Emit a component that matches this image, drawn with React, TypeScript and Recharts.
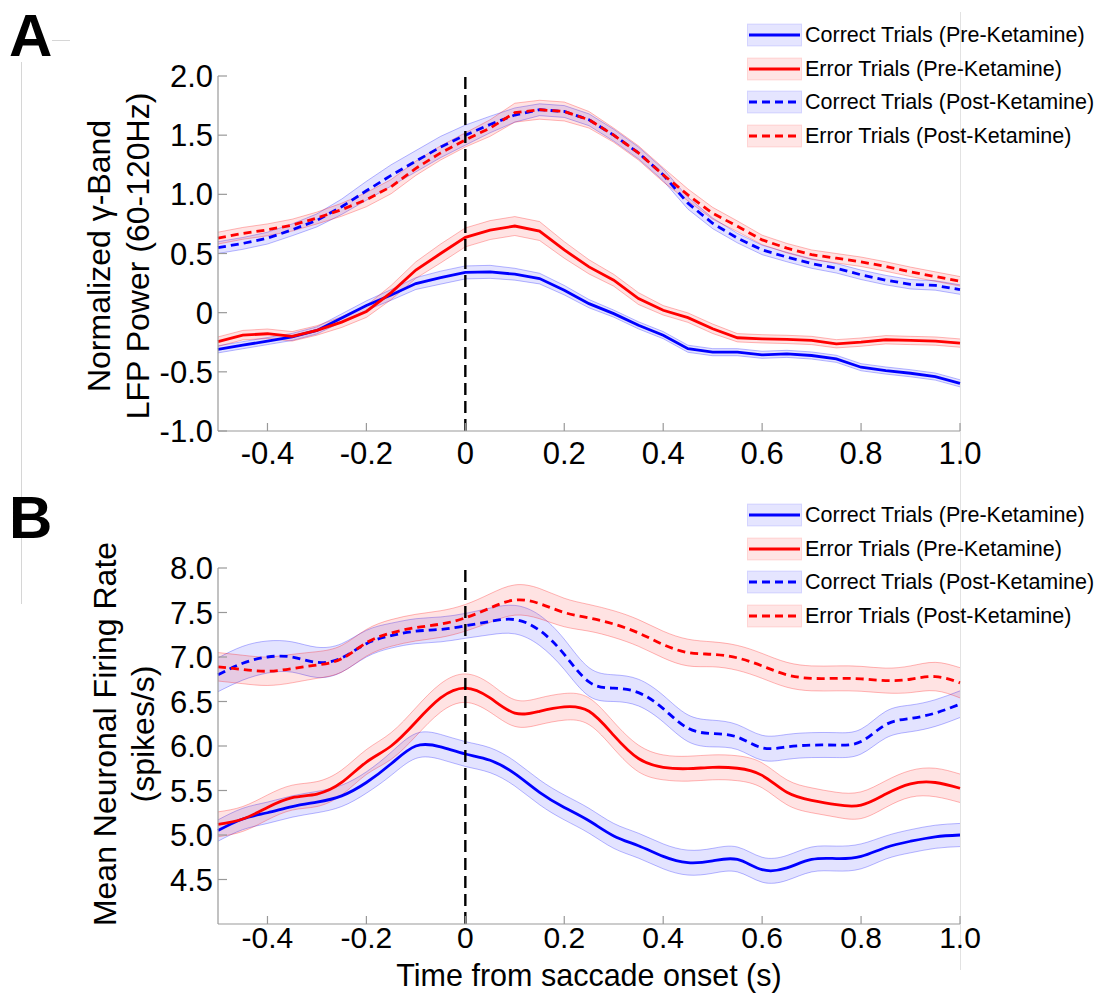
import React from 'react';
import { ComposedChart, Line, Area, XAxis, YAxis, ReferenceLine } from 'recharts';

// ---------- data ----------
const TIME = [
  -0.5, -0.45, -0.4, -0.35, -0.3, -0.25, -0.2, -0.15, -0.1, -0.05, 0, 0.05, 0.1, 0.15, 0.2, 0.25,
  0.3, 0.35, 0.4, 0.45, 0.5, 0.55, 0.6, 0.65, 0.7, 0.75, 0.8, 0.85, 0.9, 0.95, 1.0,
];

const X_TICKS = [-0.4, -0.2, 0, 0.2, 0.4, 0.6, 0.8, 1.0];
const A_Y_TICKS = [-1, -0.5, 0, 0.5, 1, 1.5, 2];
const B_Y_TICKS = [4.5, 5, 5.5, 6, 6.5, 7, 7.5, 8];

const LEGEND_LABELS = [
  'Correct Trials (Pre-Ketamine)',
  'Error Trials (Pre-Ketamine)',
  'Correct Trials (Post-Ketamine)',
  'Error Trials (Post-Ketamine)',
];

const A_Y_LABEL = ['Normalized \u03b3-Band', 'LFP Power (60-120Hz)'];
const B_Y_LABEL = ['Mean Neuronal Firing Rate', '(spikes/s)'];
const X_LABEL = 'Time from saccade onset (s)';

// Panel A: gamma-band LFP power
const A_CORRECT_PRE = [-0.31, -0.275, -0.24, -0.205, -0.15, -0.045, 0.06, 0.15, 0.246, 0.296, 0.34, 0.345, 0.325, 0.288, 0.19, 0.076, -0.008, -0.107, -0.19, -0.305, -0.334, -0.334, -0.356, -0.348, -0.362, -0.39, -0.461, -0.489, -0.512, -0.54, -0.597];
const A_ERROR_PRE = [-0.245, -0.19, -0.178, -0.2, -0.15, -0.08, 0.01, 0.17, 0.36, 0.5, 0.636, 0.698, 0.732, 0.69, 0.53, 0.387, 0.274, 0.119, 0.02, -0.042, -0.136, -0.212, -0.221, -0.226, -0.235, -0.263, -0.249, -0.229, -0.235, -0.24, -0.257];
const A_CORRECT_POST = [0.55, 0.585, 0.63, 0.7, 0.78, 0.895, 1.03, 1.16, 1.28, 1.4, 1.5, 1.59, 1.67, 1.715, 1.7, 1.63, 1.5, 1.35, 1.165, 0.925, 0.755, 0.63, 0.53, 0.47, 0.415, 0.375, 0.32, 0.275, 0.24, 0.23, 0.195];
const A_ERROR_POST = [0.63, 0.67, 0.7, 0.74, 0.8, 0.87, 0.955, 1.065, 1.22, 1.35, 1.46, 1.56, 1.69, 1.715, 1.7, 1.63, 1.5, 1.35, 1.165, 0.995, 0.84, 0.73, 0.615, 0.545, 0.49, 0.46, 0.43, 0.39, 0.345, 0.305, 0.265];

const A_CORRECT_PRE_SEM = [0.03, 0.03, 0.03, 0.03, 0.03, 0.035, 0.04, 0.045, 0.05, 0.055, 0.055, 0.055, 0.05, 0.045, 0.04, 0.035, 0.03, 0.03, 0.03, 0.03, 0.03, 0.03, 0.03, 0.03, 0.03, 0.03, 0.03, 0.03, 0.03, 0.03, 0.03];
const A_ERROR_PRE_SEM = [0.04, 0.04, 0.04, 0.04, 0.04, 0.045, 0.05, 0.06, 0.07, 0.08, 0.08, 0.08, 0.08, 0.08, 0.07, 0.06, 0.05, 0.05, 0.04, 0.04, 0.04, 0.035, 0.035, 0.035, 0.035, 0.035, 0.035, 0.035, 0.035, 0.035, 0.035];
const A_CORRECT_POST_SEM = [0.05, 0.05, 0.05, 0.05, 0.055, 0.065, 0.08, 0.09, 0.09, 0.09, 0.085, 0.07, 0.06, 0.05, 0.05, 0.05, 0.05, 0.05, 0.05, 0.05, 0.045, 0.04, 0.04, 0.04, 0.04, 0.04, 0.04, 0.04, 0.04, 0.04, 0.04];
const A_ERROR_POST_SEM = [0.05, 0.05, 0.05, 0.05, 0.05, 0.055, 0.06, 0.06, 0.06, 0.06, 0.06, 0.07, 0.08, 0.08, 0.08, 0.07, 0.06, 0.06, 0.06, 0.05, 0.05, 0.045, 0.04, 0.04, 0.04, 0.04, 0.04, 0.04, 0.04, 0.04, 0.04];

// Panel B: firing rate
const B_CORRECT_PRE = [5.05, 5.18, 5.25, 5.32, 5.37, 5.44, 5.59, 5.8, 6.0, 5.99, 5.91, 5.84, 5.69, 5.48, 5.31, 5.16, 4.99, 4.88, 4.76, 4.69, 4.71, 4.725, 4.61, 4.63, 4.725, 4.735, 4.76, 4.86, 4.93, 4.98, 5.0];
const B_ERROR_PRE = [5.12, 5.18, 5.31, 5.42, 5.46, 5.59, 5.82, 6.0, 6.27, 6.54, 6.65, 6.54, 6.37, 6.39, 6.44, 6.39, 6.12, 5.86, 5.76, 5.745, 5.76, 5.75, 5.67, 5.48, 5.39, 5.34, 5.335, 5.46, 5.575, 5.59, 5.525];
const B_CORRECT_POST = [6.8, 6.93, 7.0, 7.0, 6.94, 6.99, 7.15, 7.24, 7.29, 7.31, 7.35, 7.4, 7.42, 7.3, 7.03, 6.72, 6.65, 6.6, 6.42, 6.2, 6.14, 6.1, 5.98, 5.99, 6.01, 6.01, 6.05, 6.24, 6.31, 6.37, 6.47];
const B_ERROR_POST = [6.89, 6.86, 6.84, 6.87, 6.91, 6.98, 7.16, 7.27, 7.33, 7.37, 7.44, 7.55, 7.64, 7.6, 7.5, 7.44, 7.37, 7.27, 7.14, 7.05, 7.03, 6.99, 6.9, 6.8, 6.76, 6.76, 6.755, 6.735, 6.75, 6.78, 6.71];

const B_CORRECT_PRE_SEM = [0.12, 0.12, 0.12, 0.12, 0.12, 0.12, 0.12, 0.13, 0.14, 0.14, 0.14, 0.14, 0.14, 0.14, 0.14, 0.14, 0.14, 0.14, 0.14, 0.14, 0.14, 0.14, 0.14, 0.14, 0.14, 0.14, 0.14, 0.13, 0.13, 0.13, 0.13];
const B_ERROR_PRE_SEM = [0.14, 0.14, 0.14, 0.14, 0.14, 0.14, 0.14, 0.15, 0.16, 0.16, 0.16, 0.16, 0.15, 0.15, 0.15, 0.15, 0.15, 0.15, 0.14, 0.14, 0.14, 0.14, 0.14, 0.14, 0.14, 0.14, 0.15, 0.15, 0.15, 0.16, 0.16];
const B_CORRECT_POST_SEM = [0.19, 0.19, 0.18, 0.17, 0.17, 0.16, 0.15, 0.14, 0.14, 0.14, 0.14, 0.15, 0.16, 0.17, 0.17, 0.16, 0.15, 0.15, 0.15, 0.15, 0.15, 0.14, 0.14, 0.14, 0.14, 0.14, 0.14, 0.15, 0.15, 0.15, 0.15];
const B_ERROR_POST_SEM = [0.16, 0.16, 0.16, 0.16, 0.15, 0.15, 0.15, 0.15, 0.15, 0.15, 0.15, 0.16, 0.17, 0.17, 0.16, 0.15, 0.15, 0.15, 0.15, 0.15, 0.14, 0.14, 0.14, 0.14, 0.14, 0.14, 0.14, 0.14, 0.15, 0.16, 0.17];

// ---------- styling ----------
const FONT = '"Liberation Sans", Arial, Helvetica, sans-serif';
const AXIS_GRAY = '#999999';

const SERIES = [
  { key: 'cPre', name: LEGEND_LABELS[0], color: '#0000FF', dashed: false },
  { key: 'ePre', name: LEGEND_LABELS[1], color: '#FF0000', dashed: false },
  { key: 'cPost', name: LEGEND_LABELS[2], color: '#0000FF', dashed: true },
  { key: 'ePost', name: LEGEND_LABELS[3], color: '#FF0000', dashed: true },
];

function buildRows(means: number[][], sems: number[][]) {
  return TIME.map((t, i) => {
    const row: any = { t };
    SERIES.forEach((s, k) => {
      row[s.key] = means[k][i];
      row[s.key + 'Band'] = [means[k][i] - sems[k][i], means[k][i] + sems[k][i]];
    });
    return row;
  });
}

const DATA_A = buildRows(
  [A_CORRECT_PRE, A_ERROR_PRE, A_CORRECT_POST, A_ERROR_POST],
  [A_CORRECT_PRE_SEM, A_ERROR_PRE_SEM, A_CORRECT_POST_SEM, A_ERROR_POST_SEM]
);
const DATA_B = buildRows(
  [B_CORRECT_PRE, B_ERROR_PRE, B_CORRECT_POST, B_ERROR_POST],
  [B_CORRECT_PRE_SEM, B_ERROR_PRE_SEM, B_CORRECT_POST_SEM, B_ERROR_POST_SEM]
);

const fmtZero = (v: number) => (v === 0 ? '0' : v.toFixed(1));
const fmt1 = (v: number) => v.toFixed(1);

const tickStyle = { fill: '#000', fontSize: 31, fontFamily: FONT };

function Panel(props: any) {
  const { data, height, margin, yDomain, yTicks, yFmt, curve, xTickMargin, xAxisHeight, xLabel, xTickFont } = props;
  return (
    <ComposedChart width={1102} height={height} data={data} margin={margin}>
      <XAxis
        dataKey="t"
        type="number"
        domain={[-0.5, 1.0]}
        ticks={X_TICKS}
        interval={0}
        tickFormatter={fmtZero}
        axisLine={{ stroke: AXIS_GRAY, strokeWidth: 1.2 }}
        tickLine={{ stroke: AXIS_GRAY, strokeWidth: 1.2 }}
        tickSize={-8}
        tickMargin={xTickMargin}
        tick={{ ...tickStyle, fontSize: xTickFont }}
        height={xAxisHeight}
        label={
          xLabel
            ? { value: xLabel, position: 'insideBottom', offset: 7, fill: '#000', fontSize: 30.5, fontFamily: FONT }
            : undefined
        }
      />
      <YAxis
        type="number"
        domain={yDomain}
        ticks={yTicks}
        interval={0}
        tickFormatter={yFmt}
        width={218}
        axisLine={{ stroke: AXIS_GRAY, strokeWidth: 1.2 }}
        tickLine={{ stroke: AXIS_GRAY, strokeWidth: 1.2 }}
        tickSize={-9}
        tickMargin={14}
        tick={tickStyle}
      />
      {SERIES.map((s) => (
        <Area
          key={s.key + 'Band'}
          dataKey={s.key + 'Band'}
          type={curve}
          fill={s.color}
          fillOpacity={0.11}
          stroke={s.color}
          strokeOpacity={0.28}
          strokeWidth={1}
          dot={false}
          activeDot={false}
          isAnimationActive={false}
        />
      ))}
      {SERIES.map((s) => (
        <Line
          key={s.key}
          dataKey={s.key}
          type={curve}
          stroke={s.color}
          strokeWidth={2.8}
          strokeDasharray={s.dashed ? '8 5' : undefined}
          dot={false}
          activeDot={false}
          isAnimationActive={false}
        />
      ))}
      <ReferenceLine x={0} stroke="#000" strokeWidth={2.4} strokeDasharray="12 6" />
    </ComposedChart>
  );
}

function LegendBox({ left, top }: { left: number; top: number }) {
  return (
    <div style={{ position: 'absolute', left, top }}>
      {SERIES.map((s) => (
        <div key={s.key} style={{ display: 'flex', alignItems: 'center', height: 33.6 }}>
          <svg width={56} height={24} style={{ display: 'block' }}>
            <rect x={0.5} y={1} width={54} height={22} fill={s.color} fillOpacity={0.1} stroke={s.color} strokeOpacity={0.12} />
            <line
              x1={2}
              x2={53}
              y1={12}
              y2={12}
              stroke={s.color}
              strokeWidth={2.8}
              strokeDasharray={s.dashed ? '8 5' : undefined}
            />
          </svg>
          <span
            style={{
              marginLeft: 2,
              fontSize: 21.5,
              fontFamily: FONT,
              color: '#000',
              whiteSpace: 'nowrap',
              lineHeight: '24px',
            }}
          >
            {s.name}
          </span>
        </div>
      ))}
    </div>
  );
}

export default function App() {
  return (
    <div
      style={{
        position: 'absolute',
        left: 0,
        top: 0,
        width: 1102,
        height: 993,
        background: '#fff',
        overflow: 'hidden',
        fontFamily: FONT,
      }}
    >
      {/* faint frame artifacts */}
      <div style={{ position: 'absolute', left: 960, top: 12, width: 1, height: 958, background: '#e2e2e2' }} />
      <div style={{ position: 'absolute', left: 21, top: 62, width: 1, height: 542, background: '#d6d6d6' }} />
      <div style={{ position: 'absolute', left: 52, top: 40, width: 18, height: 1, background: '#d6d6d6' }} />

      <div style={{ position: 'absolute', left: 0, top: 0 }}>
        <Panel
          data={DATA_A}
          height={480}
          margin={{ top: 76, right: 142, bottom: 9, left: 0 }}
          yDomain={[-1, 2]}
          yTicks={A_Y_TICKS}
          yFmt={fmtZero}
          curve="linear"
          xTickMargin={19}
          xAxisHeight={40}
          xTickFont={31}
        />
      </div>
      <div style={{ position: 'absolute', left: 0, top: 480 }}>
        <Panel
          data={DATA_B}
          height={513}
          margin={{ top: 88, right: 142, bottom: 0, left: 0 }}
          yDomain={[4, 8]}
          yTicks={B_Y_TICKS}
          yFmt={fmt1}
          curve="natural"
          xTickMargin={11}
          xAxisHeight={69}
          xTickFont={30}
          xLabel={X_LABEL}
        />
      </div>

      <LegendBox left={747} top={18.5} />
      <LegendBox left={747} top={498.5} />

      <svg width={1102} height={993} style={{ position: 'absolute', left: 0, top: 0, pointerEvents: 'none' }}>
        <text x={9} y={56} fontSize={60} fontWeight="bold" fontFamily={FONT} fill="#000">A</text>
        <text x={9} y={538} fontSize={60} fontWeight="bold" fontFamily={FONT} fill="#000">B</text>
        {A_Y_LABEL.map((line, i) => (
          <text
            key={line}
            transform={`translate(${i === 0 ? 109.5 : 149}, 256) rotate(-90)`}
            textAnchor="middle"
            fontSize={32}
            fontFamily={FONT}
            fill="#000"
          >
            {line}
          </text>
        ))}
        {B_Y_LABEL.map((line, i) => (
          <text
            key={line}
            transform={`translate(${i === 0 ? 115.5 : 154}, 734) rotate(-90)`}
            textAnchor="middle"
            fontSize={32}
            fontFamily={FONT}
            fill="#000"
          >
            {line}
          </text>
        ))}
      </svg>
    </div>
  );
}
